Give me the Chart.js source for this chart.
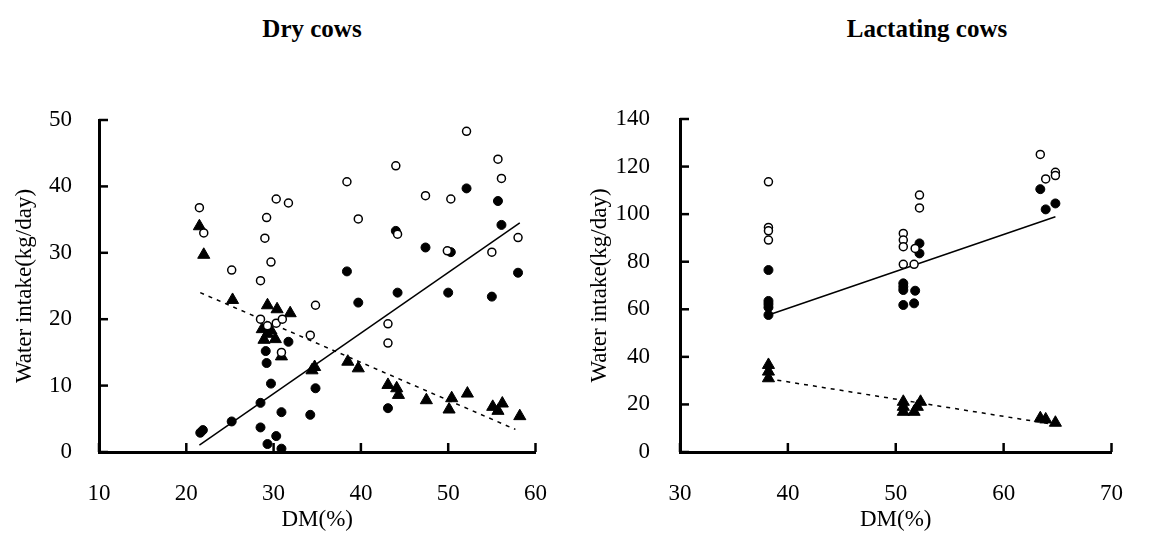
<!DOCTYPE html>
<html>
<head>
<meta charset="utf-8">
<script src="https://cdn.jsdelivr.net/npm/chart.js@4"></script>
<style>
  body { margin: 0; background: #fff; width: 1151px; height: 547px; overflow: hidden; position: relative; font-family: "Liberation Serif", serif; }
  .box { position: absolute; top: 0; height: 547px; }
  #dryBox { left: 0; width: 575px; }
  #lacBox { left: 575px; width: 576px; }
  .ttl { position: absolute; top: 15px; width: 300px; text-align: center; font-weight: bold; font-size: 25px; color: #000; }
</style>
</head>
<body>
<div class="ttl" style="left:162px">Dry cows</div>
<div class="ttl" style="left:777px">Lactating cows</div>
<div class="box" id="dryBox"><canvas id="dryChart" width="575" height="547"></canvas></div>
<div class="box" id="lacBox"><canvas id="lacChart" width="576" height="547"></canvas></div>
<script>
// 乾乳牛 (Dry cows) : DM(%) と飲水量
var dryOpenX = [21.5, 22.0, 25.2, 28.5, 29.0, 29.2, 29.7, 30.3, 31.7, 28.5, 29.3, 30.3, 31.0, 30.9, 34.8, 34.2, 38.4, 39.7, 44.0, 44.2, 47.4, 50.3, 52.1, 55.7, 56.1, 58.0, 49.9, 55.0, 43.1, 43.1];
var dryOpenY = [36.8, 33.0, 27.4, 25.8, 32.2, 35.3, 28.6, 38.1, 37.5, 20.0, 19.0, 19.4, 20.0, 15.0, 22.1, 17.6, 40.7, 35.1, 43.1, 32.8, 38.6, 38.1, 48.3, 44.1, 41.2, 32.3, 30.3, 30.1, 19.3, 16.4];
var dryFilledX = [21.6, 21.9, 25.2, 28.5, 28.5, 29.3, 30.3, 30.9, 29.7, 29.2, 29.1, 31.7, 30.9, 34.2, 34.8, 38.4, 39.7, 44.2, 44.0, 47.4, 50.3, 50.0, 52.1, 55.0, 55.7, 56.1, 58.0, 43.1];
var dryFilledY = [2.9, 3.3, 4.6, 7.4, 3.7, 1.2, 2.4, 0.5, 10.3, 13.4, 15.2, 16.6, 6.0, 5.6, 9.6, 27.2, 22.5, 24.0, 33.3, 30.8, 30.1, 24.0, 39.7, 23.4, 37.8, 34.2, 27.0, 6.6];
var dryTriX = [21.5, 22.0, 25.3, 29.3, 30.4, 31.9, 28.7, 29.7, 28.9, 30.2, 29.3, 30.9, 34.4, 34.7, 38.5, 39.7, 43.1, 44.1, 44.3, 47.5, 50.4, 50.1, 52.2, 55.1, 56.2, 55.7, 58.2];
var dryTriY = [34.0, 29.7, 22.9, 22.1, 21.5, 20.9, 18.5, 18.3, 16.9, 17.0, 17.8, 14.4, 12.3, 12.8, 13.6, 12.6, 10.1, 9.6, 8.6, 7.8, 8.1, 6.4, 8.8, 6.8, 7.3, 6.2, 5.4];
// 回帰直線の両端
var dryFilledFitX = [21.5, 58.2];
var dryFilledFitY = [1.05, 34.5];
var dryTriFitX = [21.6, 57.7];
var dryTriFitY = [24.0, 3.4];

// 泌乳牛 (Lactating cows)
var lacOpenX = [38.2, 38.2, 38.2, 38.2, 50.7, 50.7, 50.7, 51.8, 50.7, 51.7, 52.2, 52.2, 63.4, 63.9, 64.8, 64.8];
var lacOpenY = [113.6, 94.4, 93.0, 89.1, 91.9, 89.1, 86.3, 85.6, 78.9, 78.9, 108.0, 102.6, 125.1, 114.8, 117.6, 116.2];
var lacFilledX = [38.2, 38.2, 38.2, 38.2, 38.2, 50.7, 50.7, 50.7, 51.8, 50.7, 51.7, 52.2, 52.2, 63.4, 63.9, 64.8];
var lacFilledY = [76.5, 63.5, 62.2, 60.8, 57.6, 70.9, 69.5, 68.1, 67.8, 61.8, 62.5, 87.7, 83.5, 110.5, 102.0, 104.5];
var lacTriX = [38.2, 38.2, 38.2, 50.7, 50.7, 50.7, 51.7, 52.0, 52.3, 63.4, 63.9, 64.8];
var lacTriY = [36.6, 33.8, 31.0, 21.1, 19.0, 16.9, 16.9, 19.0, 21.1, 14.2, 13.7, 12.3];
var lacFilledFitX = [38.2, 64.8];
var lacFilledFitY = [57.6, 98.9];
var lacTriFitX = [38.2, 64.8];
var lacTriFitY = [30.8, 11.5];

var dryXTicks = [10, 60, 10];   // min, max, step
var dryYTicks = [0, 50, 10];
var lacXTicks = [30, 70, 10];
var lacYTicks = [0, 140, 20];

var FONT = "'Liberation Serif', 'Times New Roman', serif";

function toPoints(xs, ys) {
  var pts = [];
  for (var i = 0; i < xs.length; i++) {
    pts.push({ x: xs[i], y: ys[i] });
  }
  return pts;
}

// 目盛りを内側に描くプラグイン
var innerTicks = {
  id: "innerTicks",
  afterDraw: function (chart) {
    var ctx = chart.ctx;
    var a = chart.chartArea;
    var sx = chart.scales.x;
    var sy = chart.scales.y;
    ctx.save();
    ctx.strokeStyle = "#000";
    ctx.lineWidth = 2.5;
    sx.ticks.forEach(function (t) {
      var px = sx.getPixelForValue(t.value);
      ctx.beginPath();
      ctx.moveTo(px, a.bottom);
      ctx.lineTo(px, a.bottom - 9);
      ctx.stroke();
    });
    sy.ticks.forEach(function (t) {
      var py = sy.getPixelForValue(t.value);
      ctx.beginPath();
      ctx.moveTo(a.left, py);
      ctx.lineTo(a.left + 9, py);
      ctx.stroke();
    });
    ctx.restore();
  },
};

function makeDatasets(openPts, filledPts, triPts, fitA, fitB) {
  return [
    { data: openPts, pointStyle: "circle", pointRadius: 4, pointBackgroundColor: "#fff", pointBorderColor: "#000", pointBorderWidth: 1.5 },
    { data: filledPts, pointStyle: "circle", pointRadius: 4.5, pointBackgroundColor: "#000", pointBorderColor: "#000", pointBorderWidth: 1 },
    { data: triPts, pointStyle: "triangle", pointRadius: 7, pointBackgroundColor: "#000", pointBorderColor: "#000", pointBorderWidth: 1 },
    { data: fitA, showLine: true, pointRadius: 0, borderColor: "#000", borderWidth: 1.5 },
    { data: fitB, showLine: true, pointRadius: 0, borderColor: "#000", borderWidth: 1.5, borderDash: [4, 5] },
  ];
}

function makeChart(id, datasets, xt, yt, area) {
  var ctx = document.getElementById(id);
  return new Chart(ctx, {
    type: "scatter",
    data: { datasets: datasets },
    options: {
      responsive: false,
      animation: false,
      layout: { padding: { left: 0, top: area.top, right: area.right, bottom: 0 } },
      plugins: { legend: { display: false }, tooltip: { enabled: false }, title: { display: false } },
      scales: {
        x: {
          type: "linear",
          min: xt[0], max: xt[1],
          grid: { display: false, drawTicks: false },
          border: { display: true, color: "#000", width: 3 },
          ticks: { stepSize: xt[2], color: "#000", padding: 28, font: { family: FONT, size: 23 } },
          title: { display: true, text: "DM(%)", color: "#000", font: { family: FONT, size: 23 }, padding: { top: 0, bottom: 13 } },
          afterFit: function (s) { s.height = 547 - area.bottom; },
        },
        y: {
          type: "linear",
          min: yt[0], max: yt[1],
          grid: { display: false, drawTicks: false },
          border: { display: true, color: "#000", width: 3 },
          ticks: { stepSize: yt[2], color: "#000", padding: area.tickPad, font: { family: FONT, size: 23 } },
          title: { display: true, text: "Water intake(kg/day)", color: "#000", font: { family: FONT, size: 23 }, padding: { top: 11, bottom: 0 } },
          afterFit: function (s) { s.width = area.left; },
        },
      },
    },
    plugins: [innerTicks],
  });
}

makeChart("dryChart",
  makeDatasets(toPoints(dryOpenX, dryOpenY), toPoints(dryFilledX, dryFilledY), toPoints(dryTriX, dryTriY),
    toPoints(dryFilledFitX, dryFilledFitY), toPoints(dryTriFitX, dryTriFitY)),
  dryXTicks, dryYTicks, { left: 99, top: 120, right: 32, bottom: 452, tickPad: 27 });

makeChart("lacChart",
  makeDatasets(toPoints(lacOpenX, lacOpenY), toPoints(lacFilledX, lacFilledY), toPoints(lacTriX, lacTriY),
    toPoints(lacFilledFitX, lacFilledFitY), toPoints(lacTriFitX, lacTriFitY)),
  lacXTicks, lacYTicks, { left: 105, top: 119, right: 23, bottom: 452, tickPad: 30 });
</script>
</body>
</html>
